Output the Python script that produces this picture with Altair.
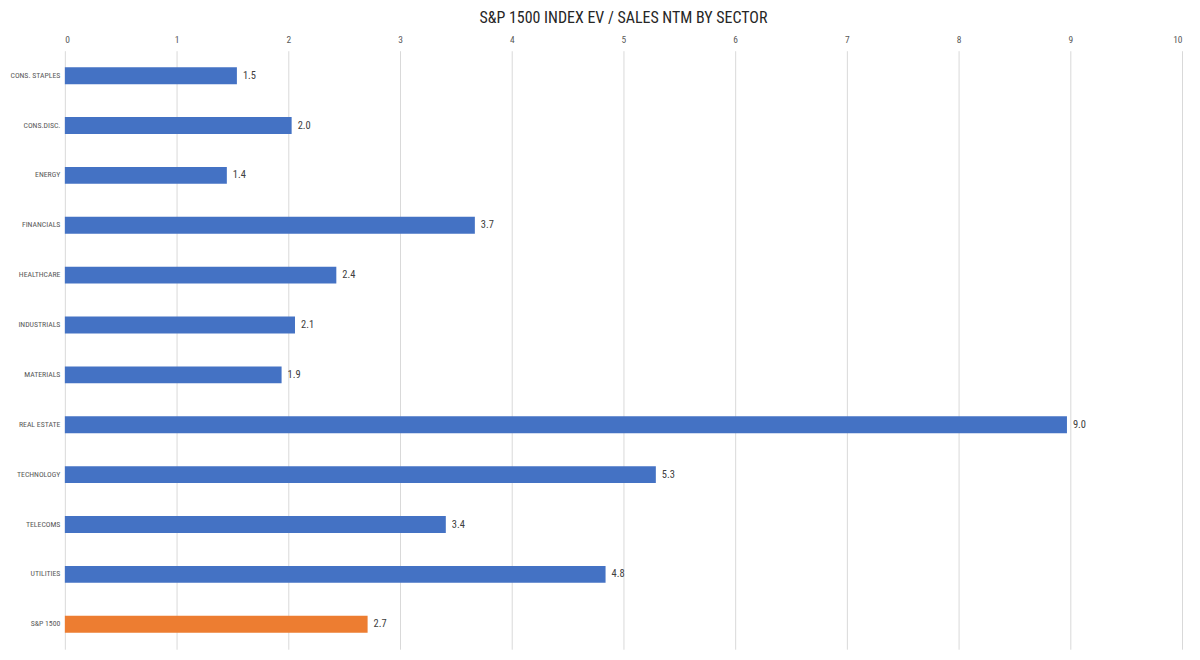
import altair as alt
import pandas as pd

sectors = ["CONS. STAPLES", "CONS.DISC.", "ENERGY", "FINANCIALS", "HEALTHCARE",
           "INDUSTRIALS", "MATERIALS", "REAL ESTATE", "TECHNOLOGY", "TELECOMS",
           "UTILITIES", "S&P 1500"]
values = [1.54, 2.03, 1.45, 3.67, 2.43, 2.06, 1.94, 8.97, 5.29, 3.41, 4.84, 2.71]
groups = ["sector"] * 11 + ["index"]

df = pd.DataFrame({"sector": sectors, "value": values, "group": groups})
df["label"] = [f"{v:.1f}" for v in values]

FONT = "Roboto Condensed, Noto Sans Condensed, Open Sans Condensed, DejaVu Sans Condensed, sans-serif"

y = alt.Y("sector:N", sort=sectors, title=None,
          scale=alt.Scale(paddingInner=0.66, paddingOuter=0.33),
          axis=alt.Axis(ticks=False, domain=False, labelFont=FONT, labelFontSize=7.8,
                        labelColor="#595959", labelPadding=5))
x = alt.X("value:Q", title=None,
          scale=alt.Scale(domain=[0, 10], nice=False),
          axis=alt.Axis(orient="top", values=list(range(11)), format="d", ticks=False,
                        domain=False, labelFont=FONT, labelFontSize=9.5,
                        labelColor="#595959", labelPadding=6,
                        gridColor="#d9d9d9", gridWidth=1))

bars = alt.Chart(df).mark_bar().encode(
    x=x, y=y,
    color=alt.Color("group:N", scale=alt.Scale(domain=["sector", "index"],
                                               range=["#4472C4", "#ED7D31"]), legend=None),
)
text = alt.Chart(df).mark_text(align="left", dx=6, font=FONT, fontSize=10.5,
                               color="#404040").encode(
    x="value:Q", y=alt.Y("sector:N", sort=sectors), text="label:N")

chart = (bars + text).properties(
    width=1120, height=600,
    autosize=alt.AutoSizeParams(type="none"),
    padding={"left": 57, "top": 42, "right": 10, "bottom": 5},
    title=alt.TitleParams("S&P 1500 INDEX EV / SALES NTM BY SECTOR", font=FONT,
                          fontSize=16, fontWeight="normal", color="#262626",
                          offset=9, anchor="middle"),
).configure_view(stroke=None)

chart.save("out.html", embed_options={"renderer": "svg", "actions": False})
